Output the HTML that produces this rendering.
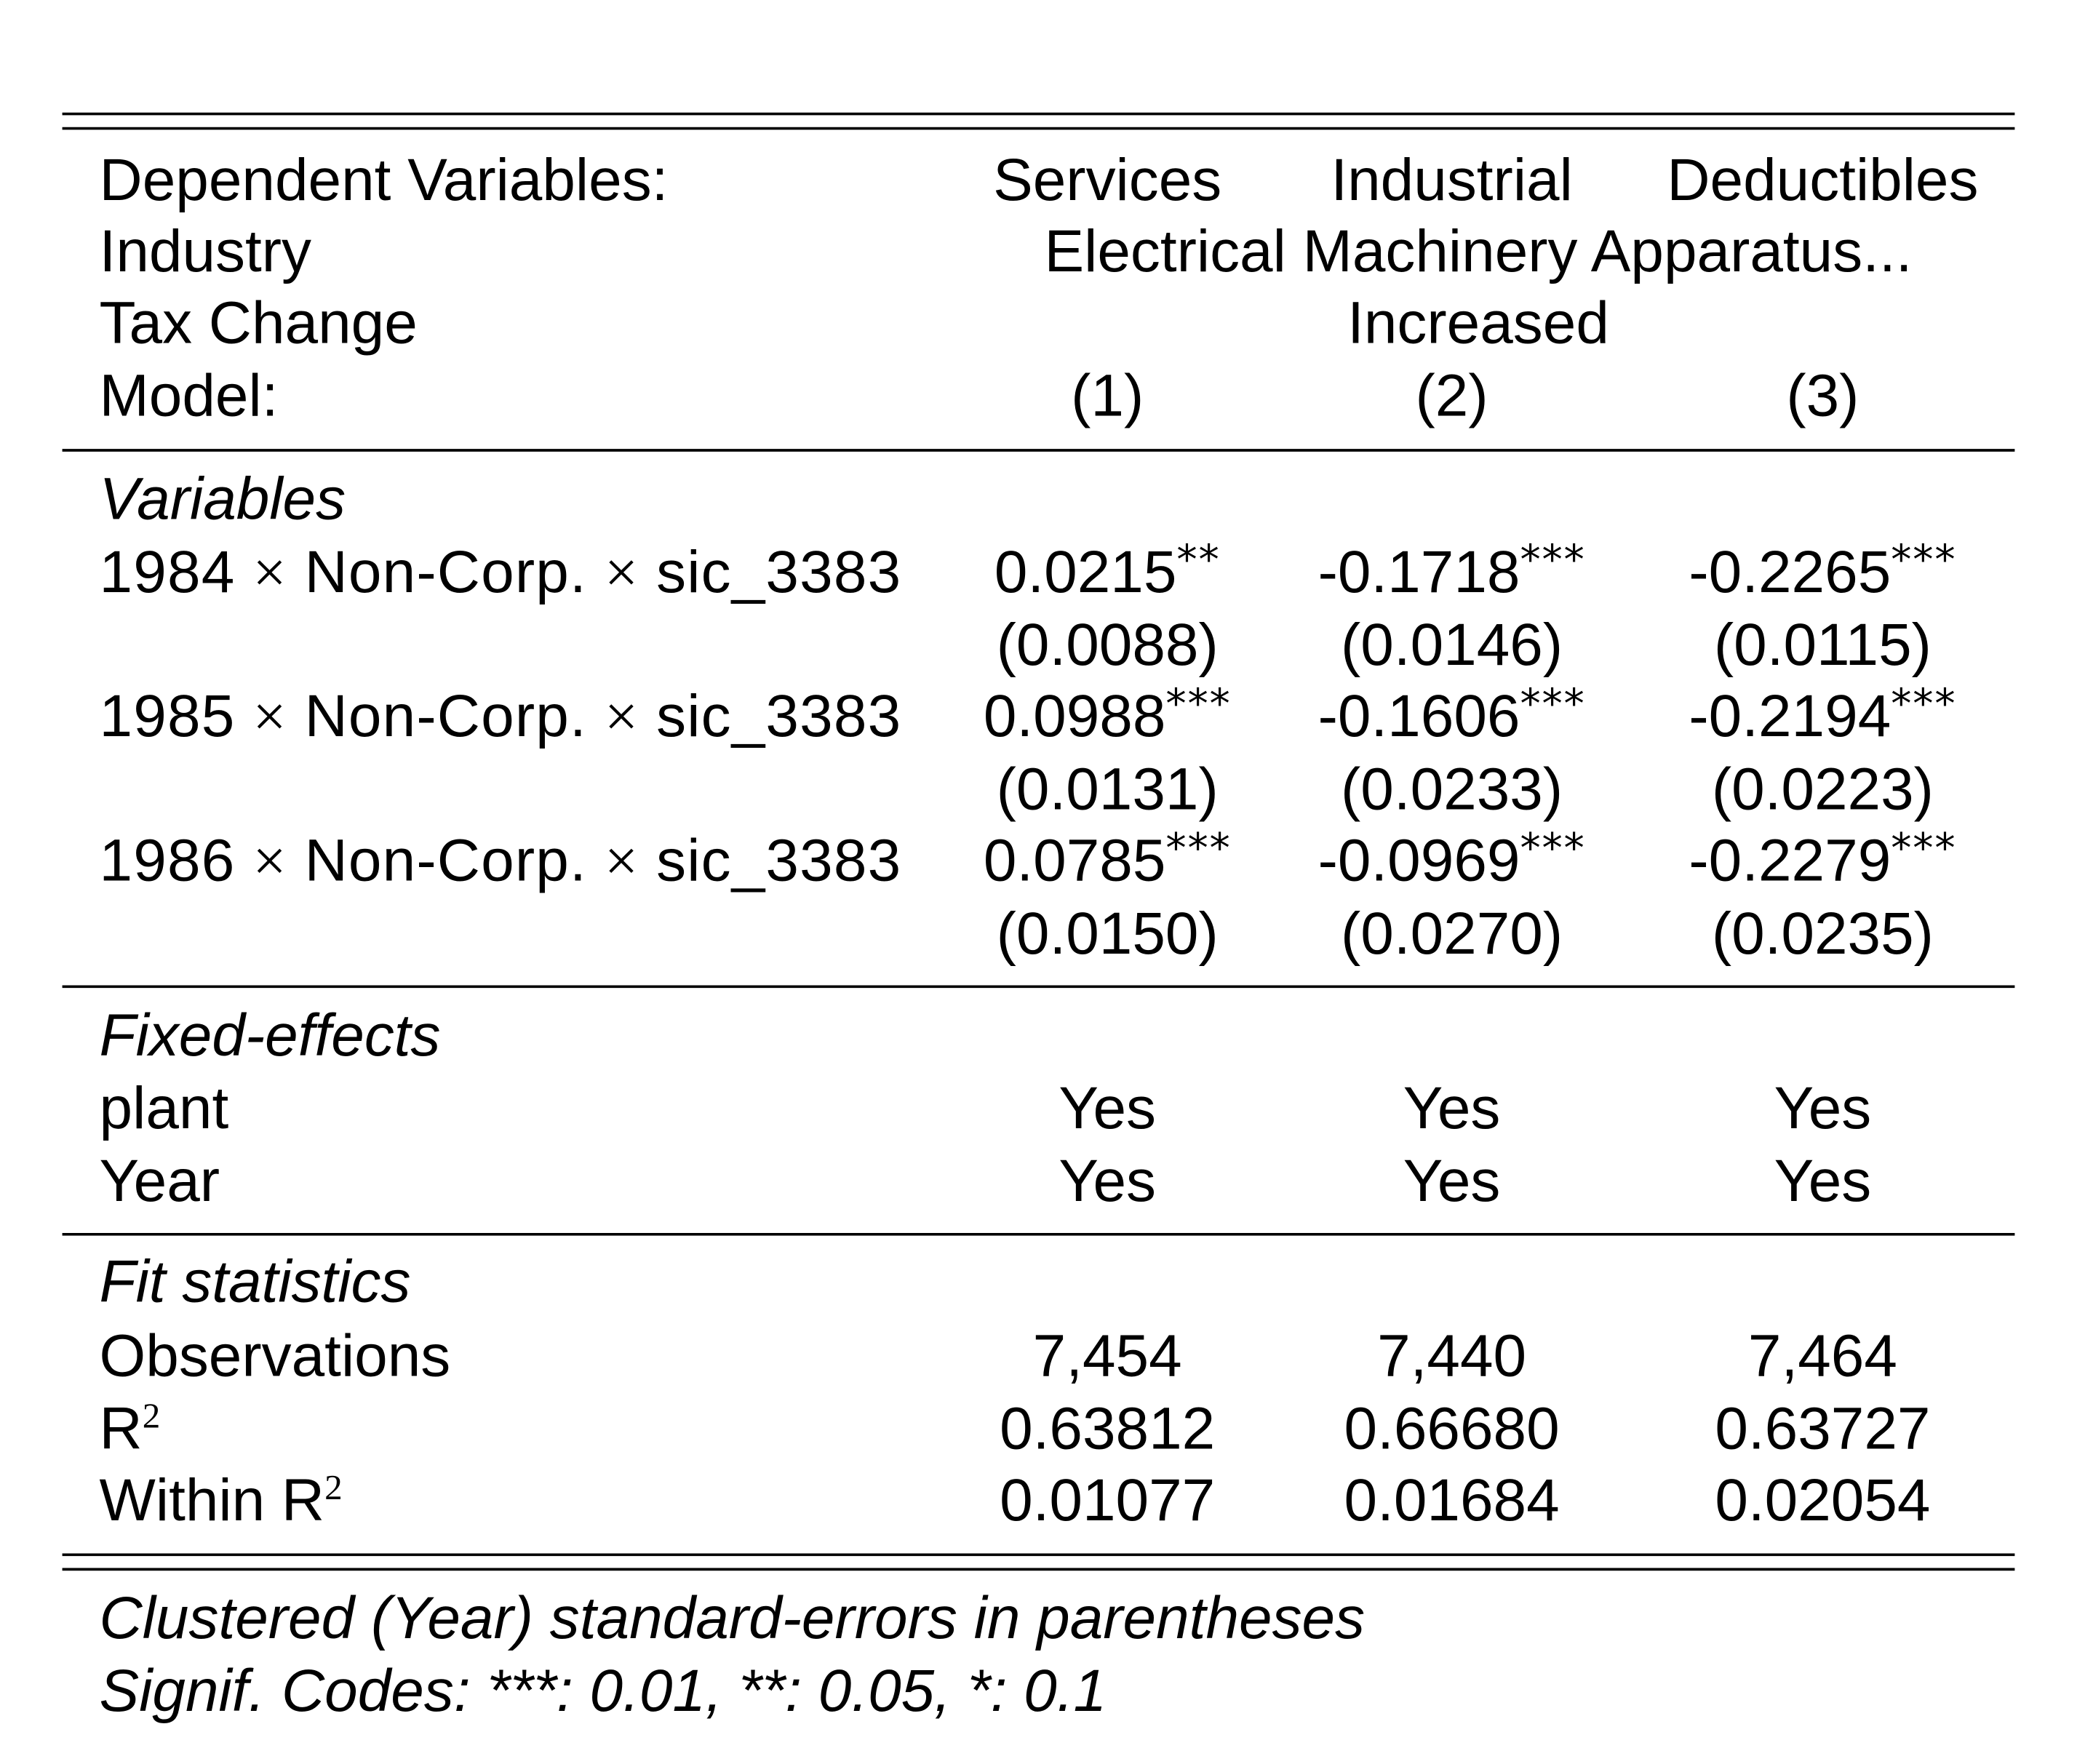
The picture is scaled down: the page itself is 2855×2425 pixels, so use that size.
<!DOCTYPE html>
<html><head><meta charset="utf-8"><style>
html,body{margin:0;padding:0;background:#fff;}
svg{display:block;}
text{font-family:"Liberation Sans",sans-serif;font-size:45px;fill:#000;}
.c{text-anchor:middle;}
.i{font-style:italic;}
.s{font-size:27px;}
.st{font-size:31px;font-family:"DejaVu Sans",sans-serif;letter-spacing:1px;}
.m{font-family:"Liberation Serif",serif;}
</style></head><body>
<svg width="2855" height="2425" viewBox="0 0 1568 1332" preserveAspectRatio="none">
<g stroke="#000" stroke-width="2">
<line x1="47" x2="1521" y1="86" y2="86"/><line x1="47" x2="1521" y1="97" y2="97"/>
<line x1="47" x2="1521" y1="340" y2="340"/>
<line x1="47" x2="1521" y1="745" y2="745"/>
<line x1="47" x2="1521" y1="932" y2="932"/>
<line x1="47" x2="1521" y1="1174" y2="1174"/><line x1="47" x2="1521" y1="1185" y2="1185"/>
</g>
<g>
<text x="75" y="151">Dependent Variables:</text>
<text class="c" x="836" y="151">Services</text>
<text class="c" x="1096" y="151">Industrial</text>
<text class="c" x="1376" y="151">Deductibles</text>
<text x="75" y="205">Industry</text>
<text class="c" x="1116" y="205">Electrical Machinery Apparatus...</text>
<text x="75" y="259">Tax Change</text>
<text class="c" x="1116" y="259">Increased</text>
<text x="75" y="314">Model:</text>
<text class="c" x="836" y="314">(1)</text>
<text class="c" x="1096" y="314">(2)</text>
<text class="c" x="1376" y="314">(3)</text>
</g>
<g>
<text class="i" x="75" y="392">Variables</text>
<text x="75" y="447" textLength="605" lengthAdjust="spacing">1984 <tspan class="m">×</tspan> Non-Corp. <tspan class="m">×</tspan> sic_3383</text>
<text class="c" x="836" y="447">0.0215<tspan class="st" dy="-14">**</tspan></text>
<text class="c" x="1096" y="447">-0.1718<tspan class="st" dy="-14">***</tspan></text>
<text class="c" x="1376" y="447">-0.2265<tspan class="st" dy="-14">***</tspan></text>
<text class="c" x="836" y="502">(0.0088)</text>
<text class="c" x="1096" y="502">(0.0146)</text>
<text class="c" x="1376" y="502">(0.0115)</text>
<text x="75" y="556" textLength="605" lengthAdjust="spacing">1985 <tspan class="m">×</tspan> Non-Corp. <tspan class="m">×</tspan> sic_3383</text>
<text class="c" x="836" y="556">0.0988<tspan class="st" dy="-14">***</tspan></text>
<text class="c" x="1096" y="556">-0.1606<tspan class="st" dy="-14">***</tspan></text>
<text class="c" x="1376" y="556">-0.2194<tspan class="st" dy="-14">***</tspan></text>
<text class="c" x="836" y="611">(0.0131)</text>
<text class="c" x="1096" y="611">(0.0233)</text>
<text class="c" x="1376" y="611">(0.0223)</text>
<text x="75" y="665" textLength="605" lengthAdjust="spacing">1986 <tspan class="m">×</tspan> Non-Corp. <tspan class="m">×</tspan> sic_3383</text>
<text class="c" x="836" y="665">0.0785<tspan class="st" dy="-14">***</tspan></text>
<text class="c" x="1096" y="665">-0.0969<tspan class="st" dy="-14">***</tspan></text>
<text class="c" x="1376" y="665">-0.2279<tspan class="st" dy="-14">***</tspan></text>
<text class="c" x="836" y="720">(0.0150)</text>
<text class="c" x="1096" y="720">(0.0270)</text>
<text class="c" x="1376" y="720">(0.0235)</text>
</g>
<g>
<text class="i" x="75" y="797">Fixed-effects</text>
<text x="75" y="852">plant</text>
<text class="c" x="836" y="852">Yes</text><text class="c" x="1096" y="852">Yes</text><text class="c" x="1376" y="852">Yes</text>
<text x="75" y="907">Year</text>
<text class="c" x="836" y="907">Yes</text><text class="c" x="1096" y="907">Yes</text><text class="c" x="1376" y="907">Yes</text>
</g>
<g>
<text class="i" x="75" y="983">Fit statistics</text>
<text x="75" y="1039">Observations</text>
<text class="c" x="836" y="1039">7,454</text><text class="c" x="1096" y="1039">7,440</text><text class="c" x="1376" y="1039">7,464</text>
<text x="75" y="1094">R<tspan class="s m" dy="-16">2</tspan></text>
<text class="c" x="836" y="1094">0.63812</text><text class="c" x="1096" y="1094">0.66680</text><text class="c" x="1376" y="1094">0.63727</text>
<text x="75" y="1148">Within R<tspan class="s m" dy="-16">2</tspan></text>
<text class="c" x="836" y="1148">0.01077</text><text class="c" x="1096" y="1148">0.01684</text><text class="c" x="1376" y="1148">0.02054</text>
</g>
<g>
<text class="i" x="75" y="1237">Clustered (Year) standard-errors in parentheses</text>
<text class="i" x="75" y="1292">Signif. Codes: ***: 0.01, **: 0.05, *: 0.1</text>
</g>
</svg>
</body></html>
